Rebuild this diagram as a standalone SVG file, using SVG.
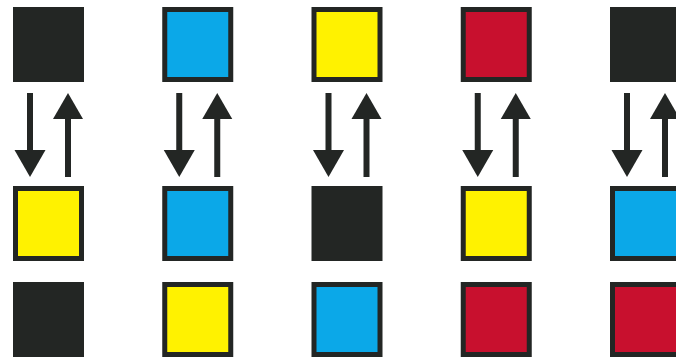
<svg xmlns="http://www.w3.org/2000/svg" width="676" height="358" viewBox="0 0 676 358">
<style>
.k{fill:#232624}
.y{fill:#fff200}
.b{fill:#0ba8e8}
.r{fill:#c8102e}
.a{fill:#232624}
</style>
<defs>
<g id="down"><rect x="-3" y="93" width="6" height="58" class="a"/><polygon points="-15.5,150 15.5,150 0,177" class="a"/></g>
<g id="up"><polygon points="0,93 -15,119 15,119" class="a"/><rect x="-3" y="118" width="6" height="59" class="a"/></g>
</defs>
<rect width="676" height="358" fill="#ffffff"/>
<g id="col1">
<g id="n1t"><rect x="13" y="7" width="71" height="75" class="k"/></g>
<g id="n1m"><rect x="13" y="186" width="71" height="75" class="k"/><rect x="18" y="191" width="61" height="65" class="y"/></g>
<g id="n1b"><rect x="13" y="282" width="71" height="75" class="k"/></g>
</g>
<g id="col2">
<g id="n2t"><rect x="162.25" y="7" width="71" height="75" class="k"/><rect x="167.25" y="12" width="61" height="65" class="b"/></g>
<g id="n2m"><rect x="162.25" y="186" width="71" height="75" class="k"/><rect x="167.25" y="191" width="61" height="65" class="b"/></g>
<g id="n2b"><rect x="162.25" y="282" width="71" height="75" class="k"/><rect x="167.25" y="287" width="61" height="65" class="y"/></g>
</g>
<g id="col3">
<g id="n3t"><rect x="311.5" y="7" width="71" height="75" class="k"/><rect x="316.5" y="12" width="61" height="65" class="y"/></g>
<g id="n3m"><rect x="311.5" y="186" width="71" height="75" class="k"/></g>
<g id="n3b"><rect x="311.5" y="282" width="71" height="75" class="k"/><rect x="316.5" y="287" width="61" height="65" class="b"/></g>
</g>
<g id="col4">
<g id="n4t"><rect x="460.75" y="7" width="71" height="75" class="k"/><rect x="465.75" y="12" width="61" height="65" class="r"/></g>
<g id="n4m"><rect x="460.75" y="186" width="71" height="75" class="k"/><rect x="465.75" y="191" width="61" height="65" class="y"/></g>
<g id="n4b"><rect x="460.75" y="282" width="71" height="75" class="k"/><rect x="465.75" y="287" width="61" height="65" class="r"/></g>
</g>
<g id="col5">
<g id="n5t"><rect x="610" y="7" width="71" height="75" class="k"/></g>
<g id="n5m"><rect x="610" y="186" width="71" height="75" class="k"/><rect x="615" y="191" width="61" height="65" class="b"/></g>
<g id="n5b"><rect x="610" y="282" width="71" height="75" class="k"/><rect x="615" y="287" width="61" height="65" class="r"/></g>
</g>
<g id="connectors">
<use href="#down" x="30"/><use href="#up" x="68"/>
<use href="#down" x="179.25"/><use href="#up" x="217.25"/>
<use href="#down" x="328.5"/><use href="#up" x="366.5"/>
<use href="#down" x="477.75"/><use href="#up" x="515.75"/>
<use href="#down" x="627"/><use href="#up" x="665"/>
</g>
</svg>
